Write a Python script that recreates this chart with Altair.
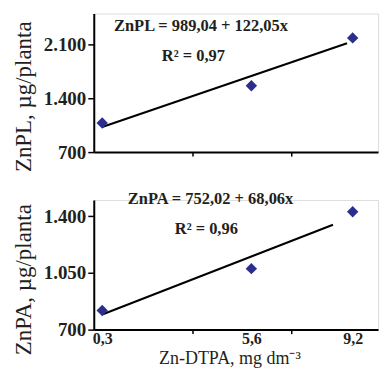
import altair as alt
import pandas as pd

# ---- data ----
x_vals = [0.3, 5.6, 9.2]
znpl = [1078, 1561, 2183]
znpa = [818, 1076, 1427]

fit_top_x = [0.3, 9.0]
fit_top_y = [1026, 2114]
fit_bot_x = [0.3, 8.5]
fit_bot_y = [793, 1347]

y_ticks_top = [700, 1400, 2100]
y_ticks_bot = [700, 1050, 1400]
x_label_values = [0.3, 5.6, 9.2]
x_minor_ticks = [3.5, 7.0]

eq_top_text = ["ZnPL = 989,04 + 122,05x", "R² = 0,97"]
eq_top_x = [3.81, 3.54]
eq_top_y = [2332, 1943]
eq_bot_text = ["ZnPA = 752,02 + 68,06x", "R² = 0,96"]
eq_bot_x = [4.15, 4.0]
eq_bot_y = [1505, 1320]

y_title_top = "ZnPL, µg/planta"
y_title_bot = "ZnPA, µg/planta"
x_title = "Zn-DTPA, mg dm⁻³"

PT_COLOR = "#2B2E8C"
INK = "#231F20"
SERIF = "Liberation Serif"
X_DOMAIN = [0, 10.1]
W = 285


def panel(pts, fitx, fity, eqt, eqx, eqy, ydom, yticks, ytitle, ytitle_y, height, bottom):
    xscale = alt.Scale(domain=X_DOMAIN, nice=False, zero=False)
    yscale = alt.Scale(domain=ydom, nice=False, zero=False)
    yaxis = alt.Axis(
        values=yticks,
        labelExpr="replace(format(datum.value, ','), ',', '.')",
        title=ytitle,
        titleFont=SERIF, titleFontSize=23, titleFontWeight="normal", titleColor=INK,
        titleAngle=270, titleBaseline="alphabetic", titleX=-63.5, titleY=ytitle_y,
        labelFont=SERIF, labelFontSize=19, labelFontWeight="bold", labelColor=INK,
        labelPadding=2, tickSize=6, tickWidth=1.5, tickColor="black",
        domainColor="black", domainWidth=2, grid=False,
    )
    if bottom:
        allv = sorted(x_label_values + x_minor_ticks)
        xaxis = alt.Axis(
            values=allv,
            labelExpr="(datum.value == 3.5 || datum.value == 7) ? '' : replace(format(datum.value, '.1f'), '.', ',')",
            tickOpacity={"condition": {"test": "datum.value == 3.5 || datum.value == 7", "value": 1}, "value": 0},
            tickSize=4, tickWidth=1.5, tickColor="black",
            labelFont=SERIF, labelFontSize=16, labelFontWeight="bold", labelColor=INK,
            labelPadding=-3, labelFlush=False, labelOverlap=False,
            title=x_title, titleFont=SERIF, titleFontSize=18, titleFontWeight="normal",
            titleColor=INK, titleBaseline="alphabetic", titleX=136, titleY=34,
            domainColor="black", domainWidth=2, grid=False,
        )
    else:
        xaxis = alt.Axis(values=x_minor_ticks, labels=False, title=None, tickSize=4,
                         tickWidth=1.5, tickColor="black", domainColor="black",
                         domainWidth=2, grid=False)

    df_pts = pd.DataFrame({"x": x_vals, "y": pts})
    df_fit = pd.DataFrame({"x": fitx, "y": fity})
    df_eq = pd.DataFrame({"x": eqx, "y": eqy, "t": eqt})

    line = alt.Chart(df_fit).mark_line(color="black", strokeWidth=2).encode(
        x=alt.X("x:Q", scale=xscale, axis=xaxis),
        y=alt.Y("y:Q", scale=yscale, axis=yaxis),
    )
    points = alt.Chart(df_pts).mark_point(shape="diamond", filled=True, size=130,
                                          color=PT_COLOR, opacity=1).encode(
        x=alt.X("x:Q", scale=xscale, axis=xaxis),
        y=alt.Y("y:Q", scale=yscale, axis=yaxis),
    )
    text = alt.Chart(df_eq).mark_text(font=SERIF, fontWeight="bold", fontSize=16.5,
                                      color=INK).encode(
        x=alt.X("x:Q", scale=xscale, axis=xaxis),
        y=alt.Y("y:Q", scale=yscale, axis=yaxis),
        text="t:N",
    )
    return alt.layer(line, points, text).properties(width=W, height=height)


top = panel(znpl, fit_top_x, fit_top_y, eq_top_text, eq_top_x, eq_top_y,
            [700, 2500], y_ticks_top, y_title_top, 83, 139, False)
bot = panel(znpa, fit_bot_x, fit_bot_y, eq_bot_text, eq_bot_x, eq_bot_y,
            [700, 1500], y_ticks_bot, y_title_bot, 79.5, 130, True)

chart = alt.vconcat(top, bot, spacing=48, bounds="flush").properties(
    padding={"left": 4, "top": 4, "right": 0, "bottom": 0}
).configure_view(stroke=None).configure(background="white")

chart.save("out.html", embed_options={"renderer": "svg", "actions": False})
